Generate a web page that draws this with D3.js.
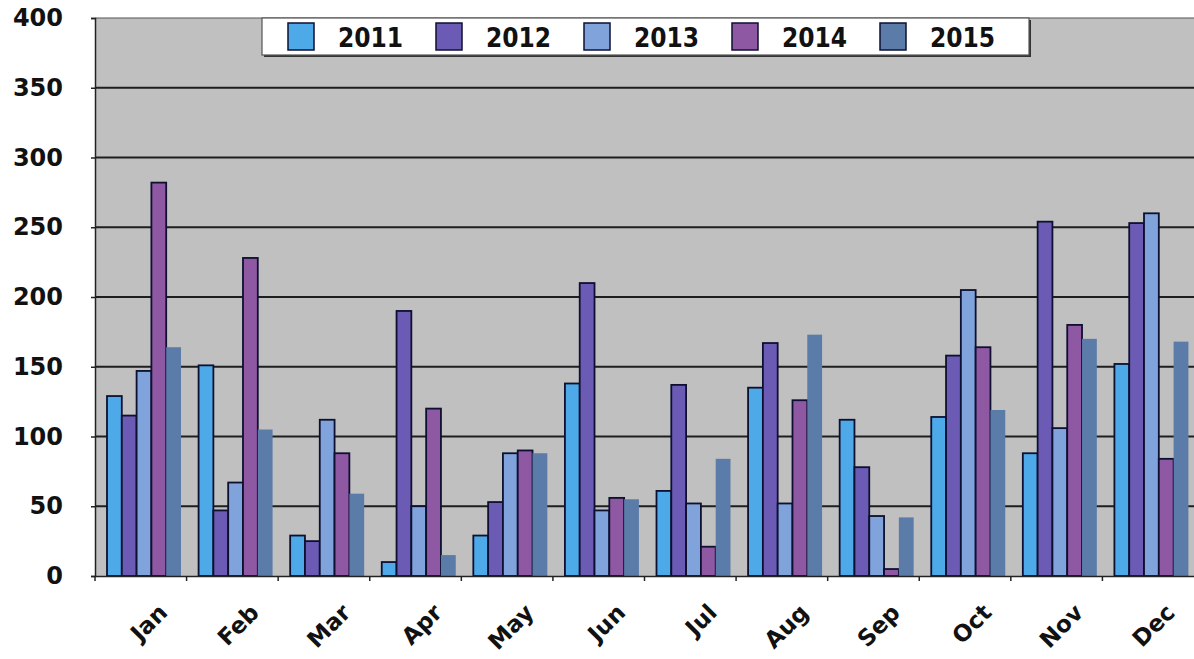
<!DOCTYPE html>
<html>
<head>
<meta charset="utf-8">
<script src="https://cdn.jsdelivr.net/npm/d3@7"></script>
<style>
  html, body { margin: 0; padding: 0; background: #ffffff; }
  svg { display: block; }
  text { font-family: "DejaVu Sans", Verdana, sans-serif; font-weight: bold; fill: #111; }
</style>
</head>
<body>
<svg id="chart" width="1194" height="659"></svg>
<script>
const months = ["Jan","Feb","Mar","Apr","May","Jun","Jul","Aug","Sep","Oct","Nov","Dec"];
const years = ["2011","2012","2013","2014","2015"];
const values2011 = [129,151,29,10,29,138,61,135,112,114,88,152];
const values2012 = [115,47,25,190,53,210,137,167,78,158,254,253];
const values2013 = [147,67,112,50,88,47,52,52,43,205,106,260];
const values2014 = [282,228,88,120,90,56,21,126,5,164,180,84];
const values2015 = [164,105,59,15,88,55,84,173,42,119,170,168];
const yTicks = [0,50,100,150,200,250,300,350,400];

const seriesValues = [values2011, values2012, values2013, values2014, values2015];
const colors = ["#4ea9e8", "#6c5bb5", "#7fa3da", "#8f58a3", "#5b7ba8"];
const strokes = ["#0d1030", "#0d1030", "#0d1030", "#0d1030", "none"];

const svg = d3.select("#chart");
const pLeft = 95, pRight = 1194, pTop = 18, pBottom = 576;

const x = d3.scaleBand().domain(months).range([pLeft, pRight]).paddingInner(0).paddingOuter(0);
const bw = x.bandwidth();
const xi = d3.scaleBand().domain(years).range([bw * 0.131, bw * 0.939]).padding(0);
const y = d3.scaleLinear().domain([0, 400]).range([pBottom, pTop]);

// plot background
svg.append("rect").attr("x", pLeft).attr("y", pTop).attr("width", pRight - pLeft).attr("height", pBottom - pTop)
  .attr("fill", "#c0c0c0");

// gridlines
svg.append("g").selectAll("line").data(yTicks.filter(d => d > 0)).join("line")
  .attr("x1", pLeft).attr("x2", pRight)
  .attr("y1", d => y(d)).attr("y2", d => y(d))
  .attr("stroke", d => d === 400 ? "#555" : "#1e1e1e")
  .attr("stroke-width", d => d === 400 ? 1.2 : 2);

// bars
const data = [];
months.forEach((m, i) => years.forEach((yr, j) => data.push({m, yr, j, v: seriesValues[j][i]})));
svg.append("g").selectAll("rect").data(data).join("rect")
  .attr("x", d => x(d.m) + xi(d.yr))
  .attr("y", d => y(d.v))
  .attr("width", xi.bandwidth())
  .attr("height", d => y(0) - y(d.v))
  .attr("fill", d => colors[d.j])
  .attr("stroke", d => strokes[d.j])
  .attr("stroke-width", 1.8);

// y axis
const yAxis = d3.axisLeft(y).tickValues(yTicks).tickSize(4).tickPadding(28).tickFormat(d3.format("d"));
const gy = svg.append("g").attr("transform", `translate(${pLeft},0)`).call(yAxis);
gy.select(".domain").attr("stroke", "#222").attr("stroke-width", 1.5);
gy.selectAll(".tick line").attr("stroke", "#222").attr("stroke-width", 1.5);
gy.selectAll(".tick text").attr("font-size", 24).attr("font-family", "DejaVu Sans").attr("font-weight", "bold").attr("fill", "#111");

// x axis
const xAxis = d3.axisBottom(x).tickSize(0).tickFormat("");
const gx = svg.append("g").attr("transform", `translate(0,${pBottom})`).call(xAxis);
gx.select(".domain").attr("stroke", "#222").attr("stroke-width", 1.5);
// tick marks at band boundaries
svg.append("g").selectAll("line").data(months).join("line")
  .attr("x1", d => x(d)).attr("x2", d => x(d))
  .attr("y1", pBottom).attr("y2", pBottom + 5)
  .attr("stroke", "#222").attr("stroke-width", 1.5);

// x labels
svg.append("g").selectAll("text").data(months).join("text")
  .attr("transform", d => `translate(${x(d) + bw / 2 + 28},${pBottom + 38}) rotate(-45)`)
  .attr("text-anchor", "end")
  .attr("font-size", 23)
  .text(d => d);

// legend
const lg = svg.append("g");
const lgX = 262, lgY = 18, lgW = 767, lgH = 37;
lg.append("rect").attr("x", lgX + 2).attr("y", lgY + 2).attr("width", lgW).attr("height", lgH).attr("fill", "#333");
lg.append("rect").attr("x", lgX).attr("y", lgY).attr("width", lgW).attr("height", lgH)
  .attr("fill", "#ffffff").attr("stroke", "#555").attr("stroke-width", 1.2);
const lgItems = lg.selectAll("g.item").data(years).join("g").attr("class", "item")
  .attr("transform", (d, i) => `translate(${288 + i * 148},${lgY + 5})`);
lgItems.append("rect").attr("width", 26).attr("height", 27)
  .attr("fill", (d, i) => colors[i]).attr("stroke", "#0d1030").attr("stroke-width", 1.5);
lgItems.append("text").attr("x", 50).attr("y", 24)
  .attr("font-family", "'DejaVu Sans Condensed', 'DejaVu Sans', sans-serif")
  .attr("font-stretch", "condensed")
  .attr("font-size", 26).text(d => d);
</script>
</body>
</html>
